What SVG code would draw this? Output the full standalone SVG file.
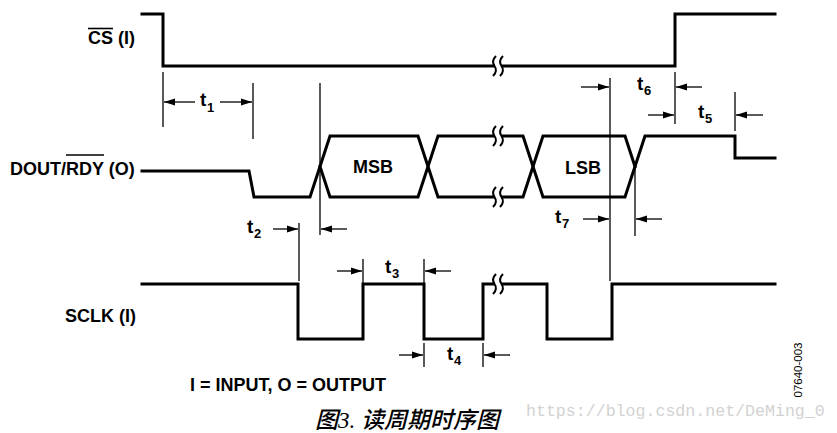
<svg xmlns="http://www.w3.org/2000/svg" width="837" height="433" viewBox="0 0 837 433">
<style>
.sig{fill:none;stroke:#000;stroke-width:3;stroke-linejoin:miter;stroke-linecap:square}
.thin{fill:none;stroke:#000;stroke-width:1.3}
.arr{fill:none;stroke:#000;stroke-width:1.3;marker-end:url(#ah)}
.lbl{font-family:"Liberation Sans",Arial,sans-serif;font-weight:bold;font-size:18px;fill:#000}
.t{font-family:"Liberation Sans",Arial,sans-serif;font-weight:bold;font-size:19px;fill:#000}
.sub{font-family:"Liberation Sans",Arial,sans-serif;font-weight:bold;font-size:13px;fill:#000}
.ovl{stroke:#000;stroke-width:1.6}
.brk{fill:none;stroke:#000;stroke-width:2}
</style>
<defs>
<marker id="ah" markerUnits="userSpaceOnUse" markerWidth="12" markerHeight="8" refX="11" refY="4" orient="auto">
<path d="M0,0.5 L11,4 L0,7.5 z" fill="#000"/>
</marker>
<g id="brkmark">
<rect x="-3" y="-4" width="6" height="8" fill="#fff"/>
<path class="brk" d="M-2,-10 Q-7,-5 -3.5,0 Q0,5 -5,10"/>
<path class="brk" d="M5,-10 Q0,-5 3.5,0 Q7,5 2,10"/>
</g>
</defs>
<rect width="837" height="433" fill="#fff"/>

<g id="cs">
<path class="sig" d="M142,14 H163 V66 H675 V14 H775"/>
<use href="#brkmark" x="498" y="66"/>
<text class="lbl" x="88" y="44">CS (I)</text>
<line class="ovl" x1="88" y1="28.5" x2="113" y2="28.5"/>
</g>

<g id="dout">
<path class="sig" d="M142,171 H249 L254,197 H310 L330,136 H418 L438,197 H523 L543,136 H625 L635,166.5"/>
<path class="sig" d="M320,166.5 L330,197 H418 L438,136 H523 L543,197 H625 L645,136 H735 V158 H775"/>
<use href="#brkmark" x="498" y="136"/>
<use href="#brkmark" x="498" y="197"/>
<text class="lbl" x="10" y="175">DOUT/RDY (O)</text>
<line class="ovl" x1="66" y1="155" x2="104" y2="155"/>
<text class="lbl" x="353" y="173">MSB</text>
<text class="lbl" x="565" y="174">LSB</text>
</g>

<g id="sclk">
<path class="sig" d="M142,284 H298 V339 H363 V284 H424 V339 H483 V284 H547 V339 H612 V284 H775"/>
<use href="#brkmark" x="498" y="284"/>
<text class="lbl" x="65" y="322">SCLK (I)</text>
</g>

<g id="connectors">
<line class="thin" x1="163" y1="72" x2="163" y2="127"/>
<line class="thin" x1="253" y1="83" x2="253" y2="139"/>
<line class="thin" x1="320" y1="83" x2="320" y2="235"/>
<line class="thin" x1="299" y1="223" x2="299" y2="281"/>
<line class="thin" x1="363" y1="259" x2="363" y2="283"/>
<line class="thin" x1="424" y1="259" x2="424" y2="283"/>
<line class="thin" x1="424" y1="343" x2="424" y2="367"/>
<line class="thin" x1="483" y1="343" x2="483" y2="367"/>
<line class="thin" x1="610" y1="78" x2="610" y2="281"/>
<line class="thin" x1="635" y1="167" x2="635" y2="236"/>
<line class="thin" x1="675" y1="72" x2="675" y2="124"/>
<line class="thin" x1="735" y1="92" x2="735" y2="131"/>

<line class="arr" x1="195" y1="102" x2="164" y2="102"/>
<line class="arr" x1="220" y1="102" x2="252" y2="102"/>
<line class="arr" x1="273" y1="229" x2="298" y2="229"/>
<line class="arr" x1="347" y1="229" x2="321" y2="229"/>
<line class="arr" x1="337" y1="271" x2="362" y2="271"/>
<line class="arr" x1="451" y1="271" x2="425" y2="271"/>
<line class="arr" x1="399" y1="355" x2="423" y2="355"/>
<line class="arr" x1="510" y1="355" x2="484" y2="355"/>
<line class="arr" x1="583" y1="219" x2="609" y2="219"/>
<line class="arr" x1="662" y1="219" x2="636" y2="219"/>
<line class="arr" x1="581" y1="87" x2="609" y2="87"/>
<line class="arr" x1="702" y1="87" x2="676" y2="87"/>
<line class="arr" x1="648" y1="115" x2="674" y2="115"/>
<line class="arr" x1="763" y1="115" x2="736" y2="115"/>
</g>

<g id="timing-labels">
<text class="t" x="200" y="106">t</text><text class="sub" x="207" y="112">1</text>
<text class="t" x="247" y="233">t</text><text class="sub" x="254" y="238">2</text>
<text class="t" x="385" y="273">t</text><text class="sub" x="392" y="278">3</text>
<text class="t" x="447" y="360">t</text><text class="sub" x="454" y="365">4</text>
<text class="t" x="698" y="118">t</text><text class="sub" x="705" y="123">5</text>
<text class="t" x="637" y="90">t</text><text class="sub" x="644" y="95">6</text>
<text class="t" x="555" y="223">t</text><text class="sub" x="562" y="228">7</text>
</g>

<g id="notes">
<text class="lbl" x="190" y="391">I = INPUT, O = OUTPUT</text>
<text transform="translate(802,370) rotate(-90)" text-anchor="middle" font-family="'Liberation Sans',Arial,sans-serif" font-size="11.5" fill="#000">07640-003</text>
<text x="407" y="428" text-anchor="middle" font-family="'Liberation Serif','Noto Sans CJK SC',serif" font-style="italic" font-weight="500" font-size="23" fill="#000">图3. 读周期时序图</text>
<text x="526" y="416" font-family="'Liberation Mono',monospace" font-size="16.6" fill="#d2d2d2">https://blog.csdn.net/DeMing_0</text>
</g>
</svg>
